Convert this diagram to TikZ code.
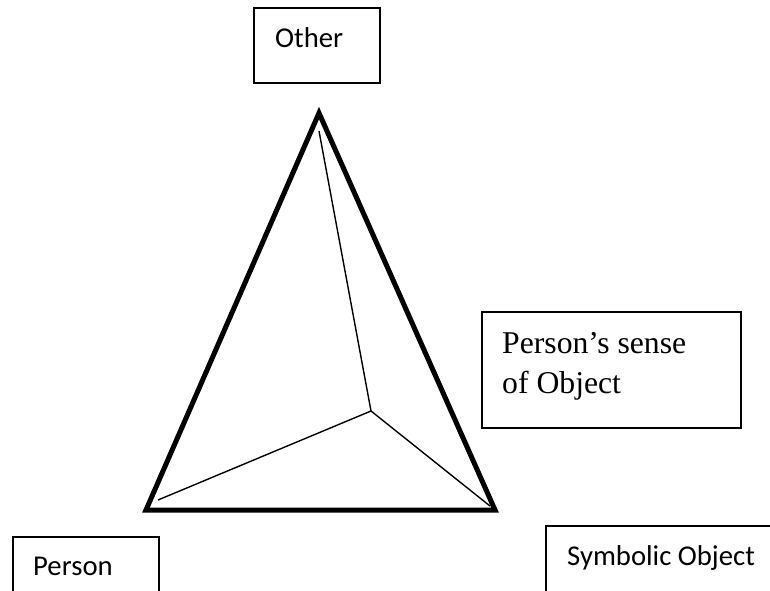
\documentclass[tikz,border=0pt]{standalone}
\usepackage{fontspec}
\setmainfont{Liberation Serif}
\newfontfamily\calfont{Carlito}
\begin{document}
\begin{tikzpicture}[x=1pt,y=-1pt,
  box/.style={line width=1.3pt},
  side/.style={line width=5pt,line join=miter},
  spoke/.style={line width=1.4pt},
  lbl/.style={anchor=base west,inner sep=0pt,font=\calfont\fontsize{28.7}{34}\selectfont}]
  \useasboundingbox (0,0) rectangle (770,590);
  \clip (0,0) rectangle (770,590);
  \path (319,113) coordinate (O) (146,510) coordinate (P) (495,510) coordinate (S) (371,411) coordinate (M);
  \path (319,131) coordinate (o) (158,500) coordinate (p) (490,506) coordinate (s);
  \draw[side] (O)--(P)--(S)--cycle;
  \foreach \X in {o,p,s} \draw[spoke] (\X)--(M);
  % boxes
  \draw[box] (254,8) rectangle (380,83);
  \draw[box] (482,312) rectangle (741,428);
  \draw[box] (13,537) rectangle (159,600);
  \draw[box] (546,526) rectangle (780,600);
  \node[lbl] (other) at (275,47) {Other};
  \node[lbl] (person) at (33,575) {Person};
  \node[lbl] (symb) at (567,565) {Symbolic Object};
  \node[lbl,align=left,font=\fontsize{31.7}{40}\selectfont] (sense) at (502,393) {Person’s sense\\of Object};
\end{tikzpicture}
\end{document}
